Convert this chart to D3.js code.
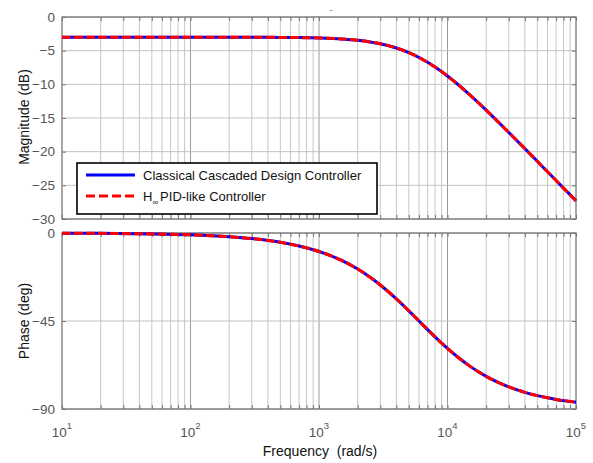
<!DOCTYPE html>
<html><head><meta charset="utf-8">
<script src="https://cdn.jsdelivr.net/npm/d3@7"></script>
<style>body{margin:0;background:#fff}svg{display:block;font-family:"Liberation Sans",Arial,sans-serif}</style>
</head><body><svg id="c" width="593" height="463"></svg>
<script>
// Frequencies (rad/s)
const freqs = [10,20,50,100,200,300,500,700,1000,1500,2000,2500,3000,4000,5000,6000,7000,8000,10000,12000,15000,20000,25000,30000,40000,50000,60000,70000,80000,100000];
// Magnitude (dB)
const magClassical = [-3.00,-3.00,-3.00,-3.00,-3.00,-3.01,-3.03,-3.06,-3.12,-3.26,-3.46,-3.70,-3.97,-4.60,-5.29,-6.01,-6.73,-7.44,-8.77,-9.99,-11.60,-13.83,-15.64,-17.15,-19.55,-21.43,-22.98,-24.28,-25.42,-27.30];
const magHinf      = [-3.00,-3.00,-3.00,-3.00,-3.00,-3.01,-3.03,-3.06,-3.12,-3.26,-3.46,-3.70,-3.97,-4.60,-5.29,-6.01,-6.73,-7.44,-8.77,-9.99,-11.60,-13.83,-15.64,-17.15,-19.55,-21.43,-22.98,-24.28,-25.42,-27.30];
// Phase (deg)
const phClassical = [-0.10,-0.19,-0.48,-0.95,-1.91,-2.86,-4.76,-6.65,-9.46,-14.04,-18.43,-22.62,-26.57,-33.69,-39.81,-45.00,-49.40,-53.13,-59.04,-63.43,-68.20,-73.30,-76.50,-78.69,-81.47,-83.16,-84.29,-85.10,-85.71,-86.50];
const phHinf      = [-0.10,-0.19,-0.48,-0.95,-1.91,-2.86,-4.76,-6.65,-9.46,-14.04,-18.43,-22.62,-26.57,-33.69,-39.81,-45.00,-49.40,-53.13,-59.04,-63.43,-68.20,-73.30,-76.50,-78.69,-81.47,-83.16,-84.29,-85.10,-85.71,-86.50];
const magTicks = [0,-5,-10,-15,-20,-25,-30];
const phTicks = [0,-45,-90];
const decades = [1,2,3,4,5];
const legendLabels = ["Classical Cascaded Design Controller","H∞ PID-like Controller"];

const svg = d3.select("#c");
const x = d3.scaleLog().domain([10,1e5]).range([62,576]);
const yM = d3.scaleLinear().domain([-30,0]).range([219,17]);
const yP = d3.scaleLinear().domain([-90,0]).range([409,233]);

const minorVals = [];
for (let d=1; d<5; d++) for (let m=1; m<10; m++) minorVals.push(m*Math.pow(10,d));
minorVals.push(1e5);

function panel(y, ticks, yTop, yBot){
  const g = svg.append("g");
  g.selectAll(".vg").data(minorVals.filter(v=>v>10 && v<1e5)).enter().append("line")
    .attr("x1",d=>x(d)).attr("x2",d=>x(d)).attr("y1",yTop).attr("y2",yBot)
    .attr("stroke",d=>Math.abs(Math.log10(d)%1)<1e-9?"#9a9a9a":"#c6c6c6").attr("stroke-width",1);
  g.selectAll(".hg").data(ticks).enter().append("line")
    .attr("x1",62).attr("x2",576).attr("y1",d=>y(d)).attr("y2",d=>y(d))
    .attr("stroke","#c2c2c2").attr("stroke-width",1);
  const left = d3.axisLeft(y).tickValues(ticks).tickSize(-4).tickPadding(7).tickFormat(d3.format("d"));
  const ga = g.append("g").attr("transform","translate(62,0)").call(left);
  ga.select(".domain").remove();
  ga.selectAll("line").attr("stroke","#777");
  ga.selectAll("text").attr("fill","#555").attr("font-size","13.5px").attr("font-family","Liberation Sans, Arial, sans-serif");
  const right = d3.axisRight(y).tickValues(ticks).tickSize(-4).tickFormat("");
  const gr = g.append("g").attr("transform","translate(576,0)").call(right);
  gr.select(".domain").remove(); gr.selectAll("line").attr("stroke","#777");
  const top = d3.axisBottom(x).tickValues(minorVals).tickSize(4).tickFormat("");
  const gt = g.append("g").attr("transform",`translate(0,${yTop})`).call(top);
  gt.select(".domain").remove(); gt.selectAll("line").attr("stroke","#777");
  const bot = d3.axisTop(x).tickValues(minorVals).tickSize(4).tickFormat("");
  const gb = g.append("g").attr("transform",`translate(0,${yBot})`).call(bot);
  gb.select(".domain").remove(); gb.selectAll("line").attr("stroke","#777");
  g.append("rect").attr("x",62).attr("y",yTop).attr("width",514).attr("height",yBot-yTop)
    .attr("fill","none").attr("stroke","#777").attr("stroke-width",1.3);
  return g;
}

panel(yM, magTicks, 17, 219);
panel(yP, phTicks, 233, 409);

function drawLines(y, a, b){
  const line = d3.line().x((d,i)=>x(freqs[i])).y(d=>y(d)).curve(d3.curveMonotoneX);
  svg.append("path").attr("d",line(a)).attr("fill","none").attr("stroke","#0000ff").attr("stroke-width",3);
  svg.append("path").attr("d",line(b)).attr("fill","none").attr("stroke","#ff0000").attr("stroke-width",3).attr("stroke-dasharray","9,3");
}
drawLines(yM, magClassical, magHinf);
drawLines(yP, phClassical, phHinf);

decades.forEach(e=>{
  const t = svg.append("text").attr("x",x(Math.pow(10,e))).attr("y",437).attr("text-anchor","middle")
    .attr("fill","#555").attr("font-size","13.5px");
  t.append("tspan").text("10");
  t.append("tspan").attr("dy",-8).attr("font-size","9.5px").text(e);
});

svg.append("text").attr("x",320).attr("y",456).attr("text-anchor","middle").attr("font-size","14px").attr("fill","#111")
  .attr("xml:space","preserve").text("Frequency  (rad/s)");
svg.append("text").attr("transform","translate(29,117) rotate(-90)").attr("text-anchor","middle").attr("font-size","14px").attr("fill","#111").text("Magnitude (dB)");
svg.append("text").attr("transform","translate(29,321) rotate(-90)").attr("text-anchor","middle").attr("font-size","14px").attr("fill","#111").text("Phase (deg)");
svg.append("text").attr("x",331).attr("y",12).attr("text-anchor","middle").attr("font-size","8px").attr("fill","#333").text("-");

const lg = svg.append("g");
lg.append("rect").attr("x",77).attr("y",163).attr("width",300).attr("height",51).attr("fill","#fff").attr("stroke","#000").attr("stroke-width",1.6);
lg.append("line").attr("x1",86).attr("x2",135).attr("y1",175).attr("y2",175).attr("stroke","#0000ff").attr("stroke-width",3);
lg.append("line").attr("x1",86).attr("x2",135).attr("y1",196).attr("y2",196).attr("stroke","#ff0000").attr("stroke-width",3).attr("stroke-dasharray","9,4");
lg.append("text").attr("x",143).attr("y",180).attr("font-size","13px").attr("fill","#111").text(legendLabels[0]);
const t2 = lg.append("text").attr("x",143).attr("y",201).attr("font-size","13px").attr("fill","#111");
t2.append("tspan").text("H");
t2.append("tspan").attr("dy",4).attr("font-size","8px").text("∞");
t2.append("tspan").attr("dy",-4).attr("dx",2).text("PID-like Controller");
</script></body></html>
